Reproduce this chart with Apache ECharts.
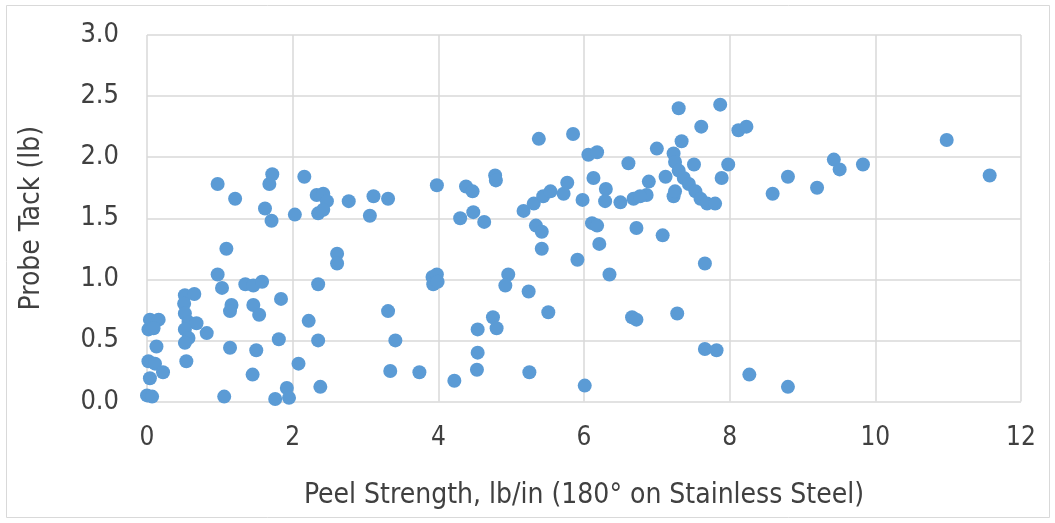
<!DOCTYPE html>
<html>
<head>
<meta charset="utf-8">
<script src="https://cdn.jsdelivr.net/npm/echarts@6/dist/echarts.min.js"></script>
<style>
html,body{margin:0;padding:0;background:#fff;}
#c{width:1055px;height:523px;}
</style>
</head>
<body>
<div id="c"></div>
<script>
// Peel strength (lb/in) values
var peel = [
 0.97,1.21,1.72,1.68,1.62,1.71,2.16,2.03,2.33,2.42,2.47,2.35,2.42,2.77,1.09,2.61,2.61,0.97,1.03,1.35,
 1.46,1.58,2.35,1.84,1.16,1.14,1.46,1.54,2.22,0.04,0.16,0.02,0.09,0.52,0.65,0.51,0.52,0.57,0.68,0.52,
 0.57,0.52,0.82,1.14,1.50,1.81,2.35,0.13,0.02,0.11,0.22,0.04,0.54,1.45,2.08,2.38,0.00,0.07,1.06,1.76,
 1.92,1.95,
 3.11,3.31,3.06,3.98,4.38,4.47,4.78,4.79,4.30,4.48,4.63,5.17,5.31,5.44,5.54,5.72,5.77,5.34,5.42,5.42,
 3.92,3.98,3.93,3.99,4.96,4.92,5.24,5.51,3.31,3.41,4.75,4.80,4.54,4.54,4.53,3.34,3.74,4.22,5.25,
 5.38,5.85,7.30,7.87,7.61,8.12,8.23,7.00,7.34,6.06,6.18,6.61,7.23,7.25,7.30,7.37,7.44,7.53,7.60,7.69,
 7.80,7.51,7.98,7.89,7.12,6.89,6.86,7.23,7.25,6.13,5.98,6.30,6.29,6.50,6.68,6.77,6.11,6.18,6.21,6.72,
 7.08,5.91,6.35,7.66,6.66,6.72,7.28,7.66,7.82,8.27,6.01,10.98,11.57,9.43,9.51,9.83,8.80,8.59,9.20,8.80
];
// Probe tack (lb) values
var tack = [
 1.78,1.66,1.86,1.78,1.58,1.48,1.84,1.53,1.69,1.70,1.64,1.54,1.57,1.64,1.25,1.21,1.13,1.04,0.93,0.96,
 0.95,0.98,0.96,0.84,0.79,0.74,0.79,0.71,0.66,0.67,0.67,0.59,0.60,0.87,0.88,0.80,0.72,0.65,0.64,0.59,
 0.52,0.48,0.56,0.44,0.42,0.51,0.50,0.45,0.33,0.31,0.24,0.19,0.33,0.22,0.31,0.12,0.05,0.04,0.04,0.02,
 0.11,0.03,
 1.68,1.66,1.52,1.77,1.76,1.72,1.85,1.81,1.50,1.55,1.47,1.56,1.62,1.68,1.72,1.70,1.79,1.44,1.39,1.25,
 1.02,1.04,0.96,0.98,1.04,0.95,0.90,0.73,0.74,0.50,0.69,0.60,0.59,0.40,0.26,0.25,0.24,0.17,0.24,
 2.15,2.19,2.40,2.43,2.25,2.22,2.25,2.07,2.13,2.02,2.04,1.95,2.03,1.96,1.89,1.83,1.78,1.72,1.66,1.62,
 1.62,1.94,1.94,1.83,1.84,1.80,1.69,1.68,1.72,1.83,1.65,1.74,1.64,1.63,1.66,1.68,1.46,1.44,1.29,1.42,
 1.36,1.16,1.04,1.13,0.69,0.67,0.72,0.43,0.42,0.22,0.13,2.14,1.85,1.98,1.90,1.94,1.84,1.70,1.75,0.12
];
var xTicks = [0, 2, 4, 6, 8, 10, 12];
var yTicks = [0.0, 0.5, 1.0, 1.5, 2.0, 2.5, 3.0];
var xTitle = 'Peel Strength, lb/in (180° on Stainless Steel)';
var yTitle = 'Probe Tack (lb)';

var pts = peel.map(function(v, i){ return [v, tack[i]]; });
var FONT = '"Liberation Sans Narrow", "DejaVu Sans Condensed", "Open Sans", sans-serif';
var chart = echarts.init(document.getElementById('c'), null, {renderer:'canvas'});
chart.setOption({
  animation: false,
  backgroundColor: '#fff',
  graphic: [{
    type: 'rect', shape: {x: 6.5, y: 5.5, width: 1043, height: 512},
    style: {fill: 'none', stroke: '#d9d9d9', lineWidth: 1}, silent: true
  }],
  grid: {left: 147, right: 34, top: 35, bottom: 121.5},
  xAxis: {
    type: 'value', min: xTicks[0], max: xTicks[xTicks.length-1], interval: 2,
    name: xTitle, nameLocation: 'middle', nameGap: 80,
    nameTextStyle: {fontFamily: FONT, fontSize: 28, color: '#404040'},
    axisLine: {show: false}, axisTick: {show: false},
    axisLabel: {fontFamily: FONT, fontSize: 26, color: '#404040', margin: 24},
    splitLine: {show: true, lineStyle: {color: '#d9d9d9', width: 1.5}}
  },
  yAxis: {
    type: 'value', min: yTicks[0], max: yTicks[yTicks.length-1], interval: 0.5,
    name: yTitle, nameLocation: 'middle', nameGap: 101, nameRotate: 90,
    nameTextStyle: {fontFamily: FONT, fontSize: 28, color: '#404040'},
    axisLine: {show: false}, axisTick: {show: false},
    axisLabel: {fontFamily: FONT, fontSize: 27, color: '#404040', margin: 28,
      formatter: function(v){ return v.toFixed(1); }},
    splitLine: {show: true, lineStyle: {color: '#d9d9d9', width: 1.5}}
  },
  series: [{
    type: 'scatter', data: pts, symbolSize: 14,
    itemStyle: {color: '#5b9bd5', opacity: 1}
  }]
});
</script>
</body>
</html>
